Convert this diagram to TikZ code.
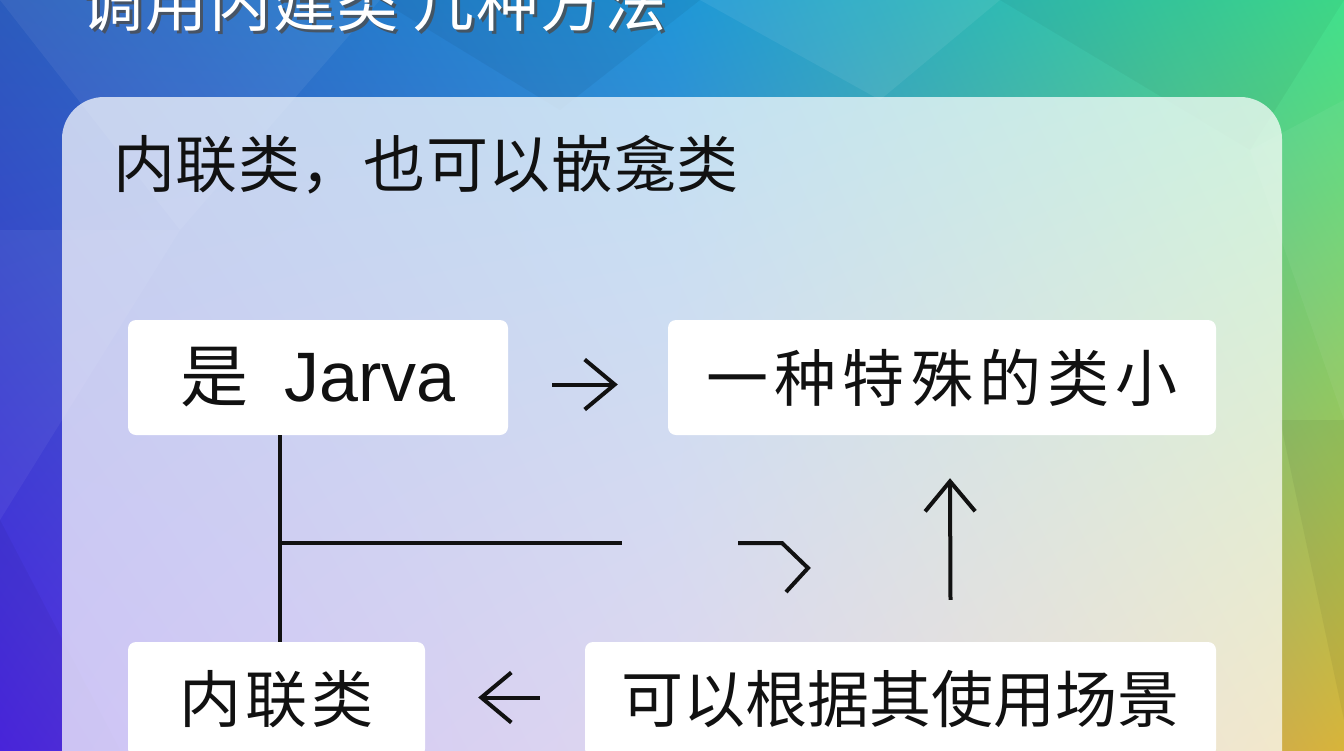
\documentclass[tikz,border=0pt]{standalone}
\usepackage{fontspec}
\setmainfont{Liberation Sans}
\newfontfamily\cjk{Noto Sans CJK SC}
\usetikzlibrary{arrows.meta,shadings}
\definecolor{bgUL}{HTML}{2B5CBC}
\definecolor{bgUM}{HTML}{1F96D8}
\definecolor{bgUR}{HTML}{40E08C}
\definecolor{bgLL}{HTML}{4B26E2}
\definecolor{bgLM}{HTML}{8A70C8}
\definecolor{bgLR}{HTML}{D8B43A}
\definecolor{ink}{HTML}{111111}
\tikzset{
  box/.style={fill=white, rounded corners=8pt, minimum height=115pt, inner sep=0pt, text=ink},
  boxtext/.style={font=\cjk\fontsize{62}{64}\selectfont},
  arr/.style={draw=ink, line width=4pt, -{Straight Barb[length=30pt,width=50pt,line width=4pt]}},
  link/.style={draw=ink, line width=4pt},
}
\begin{document}
\begin{tikzpicture}[x=1pt,y=-1pt]
\useasboundingbox (0,0) rectangle (1344,750);
\clip (0,0) rectangle (1344,750);
% background
\shade[upper left=bgUL, upper right=bgUM, lower left=bgLL, lower right=bgLM] (0,0) rectangle (672,750);
\shade[upper left=bgUM, upper right=bgUR, lower left=bgLM, lower right=bgLR] (672,0) rectangle (1344,750);
% low-poly facets
\fill[white, opacity=0.06] (0,0) -- (380,0) -- (180,230) -- cycle;
\fill[black, opacity=0.05] (380,0) -- (700,0) -- (560,110) -- cycle;
\fill[white, opacity=0.07] (700,0) -- (1000,0) -- (880,100) -- cycle;
\fill[black, opacity=0.04] (1000,0) -- (1344,0) -- (1250,150) -- cycle;
\fill[white, opacity=0.05] (1250,150) -- (1344,100) -- (1344,420) -- cycle;
\fill[black, opacity=0.05] (1280,420) -- (1344,420) -- (1344,720) -- cycle;
\fill[white, opacity=0.05] (0,230) -- (180,230) -- (0,520) -- cycle;
\fill[black, opacity=0.04] (0,520) -- (120,750) -- (0,750) -- cycle;
% title
\node[anchor=center, text=black!70, opacity=0.8] (titleshadow) at (377,6)
  {\cjk\fontsize{62}{64}\selectfont\addfontfeature{LetterSpace=3}调用内建类\hspace{14pt}几种方法};
\node[anchor=center, text=white] (title) at (374,3)
  {\cjk\fontsize{62}{64}\selectfont\addfontfeature{LetterSpace=3}调用内建类\hspace{14pt}几种方法};
% panel
\fill[white, opacity=0.72, rounded corners=42pt] (62,97) rectangle (1282,820);
% heading
\node[anchor=west, inner sep=0pt, text=ink] (head) at (113,165)
  {\cjk\fontsize{62}{64}\selectfont\addfontfeature{LetterSpace=1}内联类，也可以嵌龛类};
% boxes
\node[box, minimum width=380pt] (b1) at (318,377.5)
  {\raisebox{0pt}{\cjk\fontsize{68}{70}\selectfont 是}\hspace{36pt}\fontsize{70}{72}\selectfont Jarva};
\node[box, boxtext, minimum width=548pt] (b2) at (942,377.5)
  {\addfontfeature{LetterSpace=10}一种特殊的类小};
\node[box, boxtext, minimum width=297pt] (b3) at (276.5,699.5)
  {\addfontfeature{LetterSpace=7}内联类};
\node[box, boxtext, minimum width=631pt] (b4) at (900.5,699.5)
  {可以根据其使用场景};
% connectors
\draw[arr] ([shift={(44,7)}]b1.east) -- ([shift={(-50,7)}]b2.west);
\draw[arr] ([shift={(50,-42)}]b4.north) -- ([shift={(8,43)}]b2.south);
\draw[arr] ([shift={(-45,-2)}]b4.west) -- ([shift={(53,-2)}]b3.east);
\draw[link] ([xshift=-38]b1.south) -- ([xshift=3.5]b3.north);
\coordinate (j) at (280,543);
\coordinate (h1) at (622,543);
\coordinate (k1) at (738,543);
\coordinate (k2) at (782,543);
\coordinate (k3) at (808,568);
\coordinate (k4) at (786,592);
\draw[link] (j) -- (h1);
\draw[link, line join=miter] (k1) -- (k2) -- (k3) -- (k4);
\end{tikzpicture}
\end{document}
